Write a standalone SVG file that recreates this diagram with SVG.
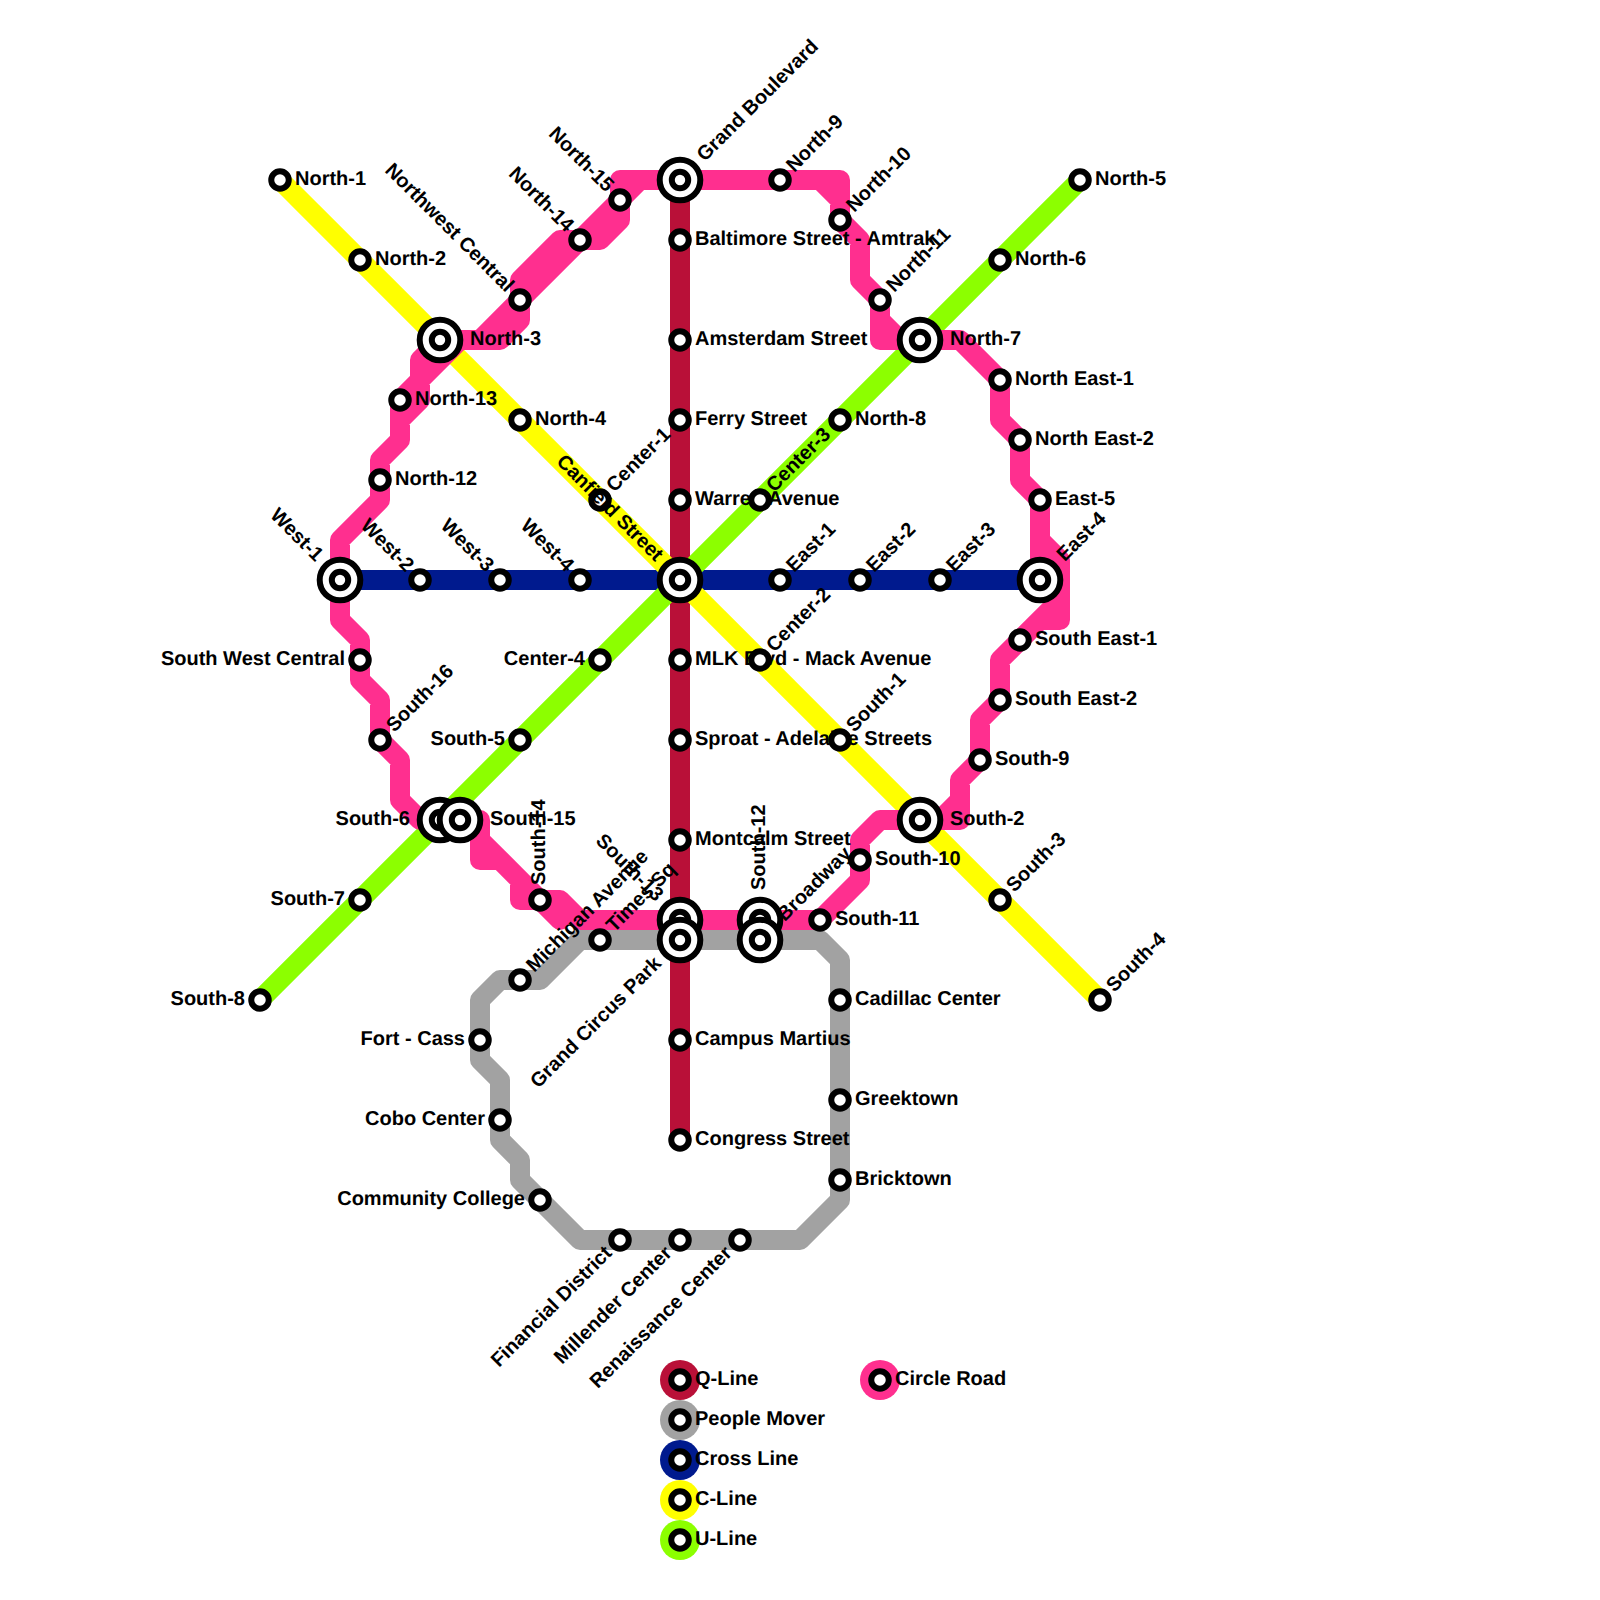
<svg xmlns="http://www.w3.org/2000/svg" width="1600" height="1600" viewBox="0 0 1600 1600">
<style>
text{font-family:"Liberation Sans",Arial,sans-serif;font-weight:700;font-size:20px;fill:#000;text-rendering:geometricPrecision}
.e{text-anchor:end}
.l{fill:none;stroke-width:20;stroke-linejoin:round;stroke-linecap:round}
.q{stroke:#b91038}.g{stroke:#a2a2a2}.b{stroke:#001a8e}.y{stroke:#ffff00}.u{stroke:#8cff00}.p{stroke:#ff2f8f}
.s{fill:#fff;stroke:#000;stroke-width:6}
.h{fill:#fff;stroke:#000;stroke-width:6}
</style>
<defs>
<g id="st"><circle class="s" r="8.75"/></g>
<g id="hub"><circle class="h" r="20.3"/><circle class="s" r="8.2"/></g>
</defs>
<rect width="1600" height="1600" fill="#fff"/>
<g id="connectors">
<path class="l q" d="M680 180V1140"/>
<path class="l g" d="M600 940H820L840 960V1200L800 1240H580L520 1180V1160L500 1140V1080L480 1060V1000L500 980H540L580 940H600"/>
<path class="l b" d="M340 580H1040"/>
<path class="l y" d="M280 180L1100 1000"/>
<path class="l u" d="M1080 180L260 1000"/>
<path class="l p" d="M440 340H480L520 300M440 340H500L520 320V300M520 300V280L560 240H580M520 300L580 240M580 240H600L620 220V200M580 240L620 200M620 200V180H680M620 200L640 180H780H840V220M820 180L840 200M840 220L860 240V280L880 300M880 300V340H920M880 320L900 340H960L1000 380V420L1020 440V480L1040 500V540L1040 580M1040 540L1060 560V620H1040L1020 640M1060 600L1020 640L1000 660V700L980 720V760L960 780V820H920M960 800L940 820M920 820H880L860 840V880L820 920H580L560 900H540M560 920L540 900L520 900V880L500 860H480V820H460M480 840L540 900M440 820H420L400 800V760L380 740V700L360 680V640L340 620V540L380 500V460L400 440V400L420 380V360L440 340M420 380L460 340M420 360H440M400 440V420L420 400V380"/>
</g>
<g id="n-north-1"><use href="#st" x="280" y="180"/><text x="295" y="185">North-1</text></g>
<g id="n-north-2"><use href="#st" x="360" y="260"/><text x="375" y="265">North-2</text></g>
<g id="n-north-4"><use href="#st" x="520" y="420"/><text x="535" y="425">North-4</text></g>
<g id="n-center-1"><use href="#st" x="600" y="500"/><text x="615" y="505" transform="rotate(-45 600 500)">Center-1</text></g>
<g id="n-grand"><use href="#hub" x="680" y="180"/><text x="710" y="185" transform="rotate(-45 680 180)">Grand Boulevard</text></g>
<g id="n-baltimore"><use href="#st" x="680" y="240"/><text x="695" y="245">Baltimore Street - Amtrak</text></g>
<g id="n-amsterdam"><use href="#st" x="680" y="340"/><text x="695" y="345">Amsterdam Street</text></g>
<g id="n-ferry"><use href="#st" x="680" y="420"/><text x="695" y="425">Ferry Street</text></g>
<g id="n-warren"><use href="#st" x="680" y="500"/><text x="695" y="505">Warren Avenue</text></g>
<g id="n-mlk"><use href="#st" x="680" y="660"/><text x="695" y="665">MLK Blvd - Mack Avenue</text></g>
<g id="n-sproat"><use href="#st" x="680" y="740"/><text x="695" y="745">Sproat - Adelaide Streets</text></g>
<g id="n-montcalm"><use href="#st" x="680" y="840"/><text x="695" y="845">Montcalm Street</text></g>
<g id="n-campus"><use href="#st" x="680" y="1040"/><text x="695" y="1045">Campus Martius</text></g>
<g id="n-congress"><use href="#st" x="680" y="1140"/><text x="695" y="1145">Congress Street</text></g>
<g id="n-canfield"><use href="#hub" x="680" y="580"/><text class="e" x="650" y="585" transform="rotate(45 680 580)">Canfield Street</text></g>
<g id="n-center-2"><use href="#st" x="760" y="660"/><text x="775" y="665" transform="rotate(-45 760 660)">Center-2</text></g>
<g id="n-center-3"><use href="#st" x="760" y="500"/><text x="775" y="505" transform="rotate(-45 760 500)">Center-3</text></g>
<g id="n-center-4"><use href="#st" x="600" y="660"/><text class="e" x="585" y="665">Center-4</text></g>
<g id="n-south-1"><use href="#st" x="840" y="740"/><text x="855" y="745" transform="rotate(-45 840 740)">South-1</text></g>
<g id="n-south-2"><use href="#hub" x="920" y="820"/><text x="950" y="825">South-2</text></g>
<g id="n-south-3"><use href="#st" x="1000" y="900"/><text x="1015" y="905" transform="rotate(-45 1000 900)">South-3</text></g>
<g id="n-south-4"><use href="#st" x="1100" y="1000"/><text x="1115" y="1005" transform="rotate(-45 1100 1000)">South-4</text></g>
<g id="n-north-5"><use href="#st" x="1080" y="180"/><text x="1095" y="185">North-5</text></g>
<g id="n-north-6"><use href="#st" x="1000" y="260"/><text x="1015" y="265">North-6</text></g>
<g id="n-north-8"><use href="#st" x="840" y="420"/><text x="855" y="425">North-8</text></g>
<g id="n-south-5"><use href="#st" x="520" y="740"/><text class="e" x="505" y="745">South-5</text></g>
<g id="n-south-7"><use href="#st" x="360" y="900"/><text class="e" x="345" y="905">South-7</text></g>
<g id="n-south-8"><use href="#st" x="260" y="1000"/><text class="e" x="245" y="1005">South-8</text></g>
<g id="n-west-1"><use href="#hub" x="340" y="580"/><text class="e" x="310" y="585" transform="rotate(45 340 580)">West-1</text></g>
<g id="n-west-2"><use href="#st" x="420" y="580"/><text class="e" x="405" y="585" transform="rotate(45 420 580)">West-2</text></g>
<g id="n-west-3"><use href="#st" x="500" y="580"/><text class="e" x="485" y="585" transform="rotate(45 500 580)">West-3</text></g>
<g id="n-west-4"><use href="#st" x="580" y="580"/><text class="e" x="565" y="585" transform="rotate(45 580 580)">West-4</text></g>
<g id="n-east-1"><use href="#st" x="780" y="580"/><text x="795" y="585" transform="rotate(-45 780 580)">East-1</text></g>
<g id="n-east-2"><use href="#st" x="860" y="580"/><text x="875" y="585" transform="rotate(-45 860 580)">East-2</text></g>
<g id="n-east-3"><use href="#st" x="940" y="580"/><text x="955" y="585" transform="rotate(-45 940 580)">East-3</text></g>
<g id="n-east-4"><use href="#hub" x="1040" y="580"/><text x="1070" y="585" transform="rotate(-45 1040 580)">East-4</text></g>
<g id="n-east-5"><use href="#st" x="1040" y="500"/><text x="1055" y="505">East-5</text></g>
<g id="n-north-3"><use href="#hub" x="440" y="340"/><text x="470" y="345">North-3</text></g>
<g id="n-north-7"><use href="#hub" x="920" y="340"/><text x="950" y="345">North-7</text></g>
<g id="n-north-9"><use href="#st" x="780" y="180"/><text x="795" y="185" transform="rotate(-45 780 180)">North-9</text></g>
<g id="n-north-10"><use href="#st" x="840" y="220"/><text x="855" y="225" transform="rotate(-45 840 220)">North-10</text></g>
<g id="n-north-11"><use href="#st" x="880" y="300"/><text x="895" y="305" transform="rotate(-45 880 300)">North-11</text></g>
<g id="n-ne-1"><use href="#st" x="1000" y="380"/><text x="1015" y="385">North East-1</text></g>
<g id="n-ne-2"><use href="#st" x="1020" y="440"/><text x="1035" y="445">North East-2</text></g>
<g id="n-se-1"><use href="#st" x="1020" y="640"/><text x="1035" y="645">South East-1</text></g>
<g id="n-se-2"><use href="#st" x="1000" y="700"/><text x="1015" y="705">South East-2</text></g>
<g id="n-south-9"><use href="#st" x="980" y="760"/><text x="995" y="765">South-9</text></g>
<g id="n-south-10"><use href="#st" x="860" y="860"/><text x="875" y="865">South-10</text></g>
<g id="n-south-11"><use href="#st" x="820" y="920"/><text x="835" y="925">South-11</text></g>
<g id="n-south-12"><use href="#hub" x="760" y="920"/><text x="790" y="925" transform="rotate(-90 760 920)">South-12</text></g>
<g id="n-south-13"><use href="#hub" x="680" y="920"/><text class="e" x="650" y="925" transform="rotate(45 680 920)">South-13</text></g>
<g id="n-south-14"><use href="#st" x="540" y="900"/><text x="555" y="905" transform="rotate(-90 540 900)">South-14</text></g>
<g id="n-south-6"><use href="#hub" x="440" y="820"/><text class="e" x="410" y="825">South-6</text></g>
<g id="n-south-15"><use href="#hub" x="460" y="820"/><text x="490" y="825">South-15</text></g>
<g id="n-south-16"><use href="#st" x="380" y="740"/><text x="395" y="745" transform="rotate(-45 380 740)">South-16</text></g>
<g id="n-swc"><use href="#st" x="360" y="660"/><text class="e" x="345" y="665">South West Central</text></g>
<g id="n-north-12"><use href="#st" x="380" y="480"/><text x="395" y="485">North-12</text></g>
<g id="n-north-13"><use href="#st" x="400" y="400"/><text x="415" y="405">North-13</text></g>
<g id="n-nwc"><use href="#st" x="520" y="300"/><text class="e" x="505" y="305" transform="rotate(45 520 300)">Northwest Central</text></g>
<g id="n-north-14"><use href="#st" x="580" y="240"/><text class="e" x="565" y="245" transform="rotate(45 580 240)">North-14</text></g>
<g id="n-north-15"><use href="#st" x="620" y="200"/><text class="e" x="605" y="205" transform="rotate(45 620 200)">North-15</text></g>
<g id="n-times"><use href="#st" x="600" y="940"/><text x="615" y="945" transform="rotate(-45 600 940)">Times Sq</text></g>
<g id="n-gcp"><use href="#hub" x="680" y="940"/><text class="e" x="650" y="945" transform="rotate(-45 680 940)">Grand Circus Park</text></g>
<g id="n-broadway"><use href="#hub" x="760" y="940"/><text x="790" y="945" transform="rotate(-45 760 940)">Broadway</text></g>
<g id="n-cadillac"><use href="#st" x="840" y="1000"/><text x="855" y="1005">Cadillac Center</text></g>
<g id="n-greektown"><use href="#st" x="840" y="1100"/><text x="855" y="1105">Greektown</text></g>
<g id="n-bricktown"><use href="#st" x="840" y="1180"/><text x="855" y="1185">Bricktown</text></g>
<g id="n-renaissance"><use href="#st" x="740" y="1240"/><text class="e" x="725" y="1245" transform="rotate(-45 740 1240)">Renaissance Center</text></g>
<g id="n-millender"><use href="#st" x="680" y="1240"/><text class="e" x="665" y="1245" transform="rotate(-45 680 1240)">Millender Center</text></g>
<g id="n-financial"><use href="#st" x="620" y="1240"/><text class="e" x="605" y="1245" transform="rotate(-45 620 1240)">Financial District</text></g>
<g id="n-community"><use href="#st" x="540" y="1200"/><text class="e" x="525" y="1205">Community College</text></g>
<g id="n-cobo"><use href="#st" x="500" y="1120"/><text class="e" x="485" y="1125">Cobo Center</text></g>
<g id="n-fort"><use href="#st" x="480" y="1040"/><text class="e" x="465" y="1045">Fort - Cass</text></g>
<g id="n-michigan"><use href="#st" x="520" y="980"/><text x="535" y="985" transform="rotate(-45 520 980)">Michigan Avenue</text></g>
<g id="legend">
<g id="leg-q"><circle cx="680" cy="1380" r="20" fill="#b91038"/><use href="#st" x="680" y="1380"/><text x="695" y="1385">Q-Line</text></g>
<g id="leg-g"><circle cx="680" cy="1420" r="20" fill="#a2a2a2"/><use href="#st" x="680" y="1420"/><text x="695" y="1425">People Mover</text></g>
<g id="leg-b"><circle cx="680" cy="1460" r="20" fill="#001a8e"/><use href="#st" x="680" y="1460"/><text x="695" y="1465">Cross Line</text></g>
<g id="leg-y"><circle cx="680" cy="1500" r="20" fill="#ffff00"/><use href="#st" x="680" y="1500"/><text x="695" y="1505">C-Line</text></g>
<g id="leg-u"><circle cx="680" cy="1540" r="20" fill="#8cff00"/><use href="#st" x="680" y="1540"/><text x="695" y="1545">U-Line</text></g>
<g id="leg-p"><circle cx="880" cy="1380" r="20" fill="#ff2f8f"/><use href="#st" x="880" y="1380"/><text x="895" y="1385">Circle Road</text></g>
</g>
</svg>
